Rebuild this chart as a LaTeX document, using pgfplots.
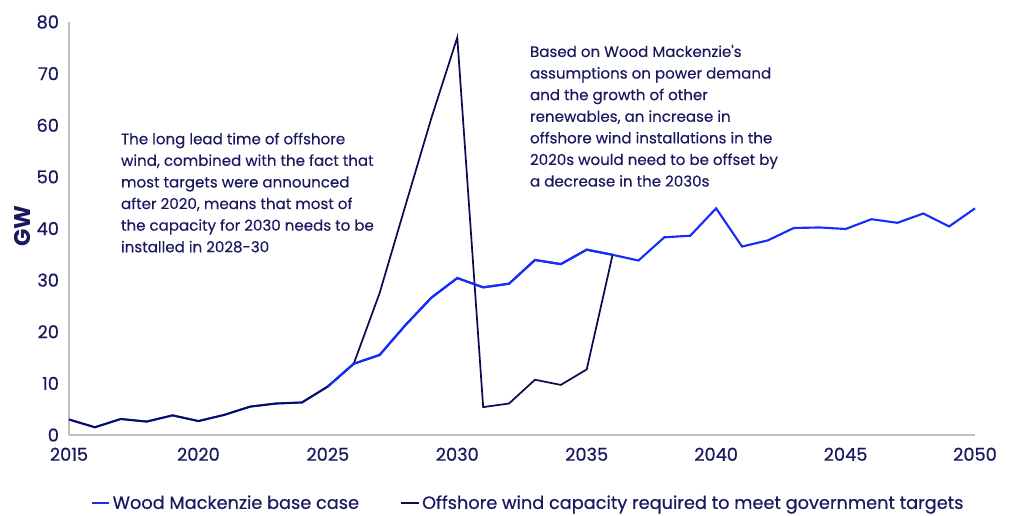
\documentclass[border=0pt]{standalone}
\usepackage{fontspec}
\setmainfont{Poppins}
\newfontfamily\medfont{Poppins}[FakeBold=0.5]
\newfontfamily\semifont{Poppins}[FakeBold=0.25]
\usepackage{pgfplots}
\pgfplotsset{compat=1.18}
\definecolor{wmblue}{RGB}{25,45,250}
\definecolor{wmnavy}{RGB}{12,12,80}
\definecolor{wmtext}{RGB}{25,25,95}
\definecolor{wmgrey}{RGB}{190,190,190}

\begin{document}
\begin{tikzpicture}
% 1 px of the reference = 0.75pt
\path[use as bounding box] (-51.75pt,-60.75pt) rectangle (706.5pt,326.25pt);
\begin{axis}[
    scale only axis,
    width=679.5pt, height=309.75pt,
    xmin=2015, xmax=2050, ymin=0, ymax=80,
    xtick={2015,2020,...,2050},
    ytick={0,10,...,80},
    axis x line*=bottom, axis y line*=left,
    axis line style={wmgrey, line width=0.8pt, -},
    major tick length=0pt,
    /pgf/number format/1000 sep={},
    /pgf/number format/assume math mode=true,
    ticklabel style={font=\medfont\fontsize{13.3}{15}\selectfont, text=wmtext},
    xticklabel style={yshift=-6pt},
    yticklabel style={xshift=-4pt},
    clip=false,
    legend columns=2,
    legend style={at={(0.507,-0.165)}, anchor=center, draw=none, fill=none,
        font=\medfont\fontsize{13.3}{15}\selectfont, text=wmtext,
        /tikz/every even column/.append style={column sep=29pt}},
    legend image code/.code={\draw[#1] (0pt,0pt) -- (13pt,0pt);},
    legend cell align=left,
]
\addplot[wmblue, line width=1.6pt] coordinates {
(2015,3.0) (2016,1.5) (2017,3.1) (2018,2.6) (2019,3.8) (2020,2.7)
(2021,3.9) (2022,5.5) (2023,6.1) (2024,6.3) (2025,9.4) (2026,13.8)
(2027,15.5) (2028,21.3) (2029,26.6) (2030,30.4) (2031,28.6) (2032,29.3)
(2033,33.9) (2034,33.1) (2035,35.9) (2036,34.9) (2037,33.8) (2038,38.3)
(2039,38.6) (2040,43.9) (2041,36.5) (2042,37.7) (2043,40.1) (2044,40.2)
(2045,39.9) (2046,41.8) (2047,41.1) (2048,42.9) (2049,40.4) (2050,43.9)
};
\addlegendentry{Wood Mackenzie base case}
\addplot[wmnavy, line width=1.3pt] coordinates {
(2015,3.0) (2016,1.5) (2017,3.1) (2018,2.6) (2019,3.8) (2020,2.7)
(2021,3.9) (2022,5.5) (2023,6.1) (2024,6.3) (2025,9.4) (2026,13.8)
(2027,27.5) (2028,44.5) (2029,61.4) (2030,77.0) (2031,5.4) (2032,6.1)
(2033,10.7) (2034,9.7) (2035,12.7) (2036,34.9)
};
\addlegendentry{Offshore wind capacity required to meet government targets}
\addplot[wmblue, line width=1.6pt, forget plot] coordinates {
(2025,9.4) (2026,13.8) (2027,15.5) (2028,21.3) (2029,26.6) (2030,30.4)
(2031,28.6) (2032,29.3) (2033,33.9) (2034,33.1) (2035,35.9) (2036,34.9)
};
\node[rotate=90, anchor=center, text=wmtext,
      font=\fontsize{17}{19}\selectfont\bfseries] at (axis cs:2013.2,40.4) {GW};
\node[anchor=north west, inner sep=0pt, align=left, text=wmtext,
      font=\semifont\fontsize{11.3}{16.2}\selectfont] at (axis cs:2017.0,58.6)
{The long lead time of offshore\\wind, combined with the fact that\\most targets were announced\\after 2020, means that most of\\the capacity for 2030 needs to be\\installed in 2028-30};
\node[anchor=north west, inner sep=0pt, align=left, text=wmtext,
      font=\semifont\fontsize{11.3}{16.2}\selectfont] at (axis cs:2032.8,75.6)
{Based on Wood Mackenzie\textquotesingle s\\assumptions on power demand\\and the growth of other\\renewables, an increase in\\offshore wind installations in the\\2020s would need to be offset by\\a decrease in the 2030s};
\end{axis}
\end{tikzpicture}
\end{document}
